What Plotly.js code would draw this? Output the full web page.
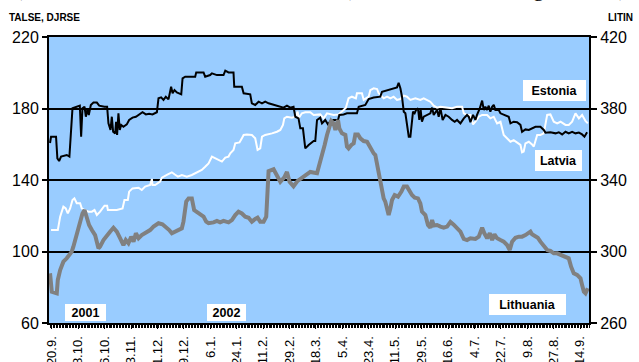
<!DOCTYPE html>
<html>
<head>
<meta charset="utf-8">
<script src="https://cdn.plot.ly/plotly-3.0.1.min.js"></script>
<style>
  html, body { margin: 0; padding: 0; background: #ffffff; }
  #chart { width: 639px; height: 362px; }
</style>
</head>
<body>
<div id="chart"></div>
<script>
// ---- tick labels (day index of each label, and its text) ----
const tickDays = [0, 18, 36, 54, 72, 90, 108, 126, 144, 162, 180, 198, 216, 234, 252, 270, 288, 306, 324, 342, 360];
const tickLabels = ["20.9.", "8.10.", "26.10.", "13.11.", "1.12.", "19.12.", "6.1.", "24.1.", "11.2.", "29.2.", "18.3.",
                    "5.4.", "23.4.", "11.5.", "29.5.", "16.6.", "4.7.", "22.7.", "9.8.", "27.8.", "14.9."];

// ---- Estonia (left axis) ----
const estoniaDays = [-1.2,-0.5,2.9,3.8,5.0,6.3,10.2,12.0,14.1,17.0,19.1,20.0,20.9,22.3,23.2,24.3,25.2,26.6,28.4,30.7,32.3,35.9,37.7,38.6,40.0,40.9,41.8,43.2,43.8,44.5,45.4,46.3,47.3,48.8,51.1,52.7,55.0,57.3,59.5,61.8,64.1,66.3,68.6,71.6,72.7,74.5,76.1,77.7,79.5,81.3,82.3,83.6,85.2,88.2,89.1,90.9,97.7,98.4,103.4,104.5,107.9,109.1,112.5,117.0,118.2,120.4,123.8,124.3,129.5,130.7,135.2,136.3,138.6,140.9,143.2,145.4,147.7,151.1,154.5,157.9,160.2,162.5,164.7,165.9,168.1,169.3,171.1,172.7,175.0,178.4,179.5,180.7,182.9,184.1,186.3,188.2,189.8,192.0,195.0,195.9,198.8,201.1,207.9,209.1,213.6,215.9,219.3,223.8,225.0,229.5,232.9,235.2,236.3,237.5,238.6,239.8,240.9,242.0,243.2,244.3,245.4,246.1,247.2,248.2,249.5,250.4,251.3,252.2,253.4,255.6,257.9,259.1,260.2,262.5,263.6,264.8,266.3,268.2,270.4,272.7,274.5,276.1,278.4,280.7,282.9,284.1,285.2,287.0,288.6,289.7,291.6,293.2,294.3,295.4,296.6,297.7,298.8,300.0,301.1,302.2,304.5,305.7,309.1,311.3,312.5,314.7,317.0,319.3,320.4,322.7,325.0,327.2,329.5,332.9,335.2,336.3,339.7,343.2,345.4,347.7,350.0,352.2,354.5,356.8,359.1,361.3,362.9,364.7];
const estoniaVals = [160.7,164.2,164.2,152.1,150.6,153.1,154.0,153.1,180.1,181.0,181.6,164.2,180.1,181.0,175.4,179.7,176.4,182.0,183.3,183.3,181.6,181.0,181.0,171.7,168.0,175.4,167.0,166.1,172.6,165.2,177.3,168.0,170.8,169.8,171.1,173.6,174.9,175.4,176.7,177.9,176.7,177.1,176.7,177.9,185.7,186.2,184.8,186.6,185.1,192.2,188.5,190.3,189.0,187.9,196.9,197.8,197.8,200.2,200.2,197.8,198.7,199.7,198.7,198.7,201.2,200.2,200.2,192.2,192.2,188.5,187.9,182.9,182.0,183.8,182.9,183.8,182.9,182.0,181.0,180.5,181.6,180.5,181.0,175.4,174.5,168.9,168.9,157.7,159.6,161.8,161.8,173.6,174.9,171.7,173.6,171.1,173.0,173.6,173.6,176.4,176.7,177.3,177.3,181.0,182.0,185.3,186.1,186.6,189.4,190.3,191.3,191.8,194.4,191.3,186.6,178.2,177.3,170.8,164.2,164.2,171.7,178.2,177.3,179.2,180.1,173.6,179.2,172.6,175.4,176.4,177.3,180.5,176.4,179.2,175.4,180.1,173.6,176.4,175.4,173.6,172.6,173.6,171.7,174.5,176.4,175.4,172.3,176.4,173.6,176.4,180.1,184.4,179.2,181.0,179.2,181.6,178.2,181.0,182.0,179.2,179.2,177.3,176.4,175.4,171.7,172.6,172.3,170.8,167.0,168.3,168.0,168.9,169.8,169.8,168.0,166.5,166.7,166.1,166.7,165.5,167.0,166.1,167.0,166.1,166.5,165.5,164.2,166.7];

// ---- Latvia (left axis) ----
const latviaDays = [-0.5,4.1,5.7,7.9,9.5,10.9,12.5,14.1,15.4,17.0,19.3,20.4,22.3,25.0,27.3,29.1,30.7,32.9,35.9,37.7,38.2,44.3,48.2,49.5,51.8,52.7,55.0,59.1,61.3,63.6,67.0,68.2,68.6,70.4,73.8,75.0,78.4,81.8,83.6,85.9,88.6,92.0,95.4,97.7,100.0,102.2,104.5,106.8,109.1,111.3,113.6,115.9,118.2,120.4,121.6,123.8,125.0,127.9,129.5,130.7,132.9,136.3,138.6,140.2,142.0,143.2,145.4,147.7,150.0,153.4,155.7,157.5,158.4,160.2,163.6,165.9,167.5,168.2,170.4,172.7,176.1,178.4,182.9,185.2,187.5,192.0,195.4,198.8,200.4,202.2,204.5,207.2,207.9,211.3,212.5,215.9,217.0,219.3,221.6,222.7,226.1,228.4,230.7,232.9,235.2,237.5,239.8,242.0,244.3,247.7,251.1,253.4,255.6,257.9,260.2,262.5,264.8,269.3,272.7,276.1,279.5,280.7,282.9,285.2,287.0,288.6,290.9,293.2,296.6,298.8,301.1,303.4,305.7,307.9,310.2,312.5,314.7,317.0,319.3,320.4,321.5,322.7,325.0,327.2,328.4,330.7,332.9,335.2,337.5,339.7,342.0,344.3,346.6,350.0,352.2,354.5,356.8,359.1,361.3,363.6,365.2];
const latviaVals = [112.0,112.0,119.5,125.1,124.1,121.3,124.1,128.8,129.7,127.0,127.0,124.1,123.2,122.3,122.3,123.2,120.4,122.3,125.6,125.6,123.2,123.2,124.1,128.8,128.8,133.5,135.3,135.7,134.4,136.3,137.2,140.6,137.2,137.2,139.1,141.3,142.8,144.3,143.2,141.9,142.8,141.9,142.8,143.7,144.7,145.6,147.4,149.3,153.1,152.1,151.2,150.3,152.5,153.1,154.9,156.8,160.5,161.0,163.3,165.2,165.5,165.2,163.3,156.8,157.7,164.2,165.2,165.5,166.1,167.0,168.0,170.8,174.5,175.4,174.9,175.4,178.2,174.5,177.3,177.9,177.9,176.4,176.7,174.5,177.3,176.4,176.7,179.2,180.5,185.7,186.6,185.7,188.5,188.5,184.8,186.6,190.3,191.3,190.9,188.5,185.7,186.6,185.7,186.6,184.8,185.3,187.2,186.6,184.8,185.7,184.8,185.7,184.8,183.8,181.6,180.5,181.0,180.5,180.1,181.0,181.0,177.3,176.4,176.4,171.1,172.6,175.4,176.4,176.4,174.5,175.4,171.7,172.6,165.2,163.3,161.4,162.3,161.0,159.6,155.5,155.9,160.5,161.4,159.9,158.7,165.2,165.2,166.1,176.4,176.7,172.6,171.7,172.6,170.8,170.8,172.6,177.3,174.5,176.4,173.0,171.7];

// ---- Lithuania (right axis) ----
const lithuaniaDays = [-1.2,0.0,3.4,4.1,5.7,7.9,10.2,11.8,13.6,14.7,17.0,19.3,20.9,22.3,23.8,25.4,27.3,29.5,31.8,32.9,35.2,37.5,39.7,42.0,44.3,46.6,48.8,50.4,52.2,54.1,55.7,57.3,59.1,61.3,63.6,67.0,69.3,72.7,75.4,77.7,80.0,81.8,84.1,86.3,88.6,89.7,90.4,91.6,93.2,95.4,97.0,98.8,101.1,103.4,105.2,106.8,110.2,112.5,114.7,117.0,120.4,122.7,125.0,127.2,129.5,131.8,134.1,136.3,138.6,140.2,142.0,144.3,146.1,147.0,147.7,151.1,153.8,155.7,158.4,160.2,162.0,164.7,167.5,171.5,176.1,180.7,182.2,184.1,185.9,187.5,188.6,190.4,192.0,193.2,195.0,195.9,197.7,200.0,201.1,202.2,204.1,205.7,206.8,208.6,210.2,212.5,214.8,217.0,219.3,220.4,221.6,222.7,223.8,225.0,226.1,227.2,228.4,229.5,230.7,231.8,233.6,235.9,238.2,239.8,242.0,243.6,245.4,247.3,249.5,251.1,252.2,254.5,256.3,257.9,259.1,260.2,262.5,264.8,267.0,269.3,271.6,273.8,276.1,278.4,280.7,282.9,285.2,288.6,290.9,293.2,294.7,296.6,298.4,300.0,301.6,303.4,305.7,307.9,310.2,312.0,313.6,315.9,318.2,320.4,322.7,325.0,326.1,327.2,329.5,331.1,332.9,335.2,337.5,339.7,342.0,344.3,346.6,350.0,352.2,353.8,355.6,357.9,360.2,361.3,362.5,363.6,365.2];
const lithuaniaVals = [287.8,277.5,276.6,284.1,289.6,294.3,296.2,298.0,299.9,302.7,309.2,316.7,321.3,323.2,319.5,314.8,312.0,309.2,301.8,302.7,306.4,309.2,311.1,313.3,311.1,307.4,303.6,306.4,304.6,308.3,305.5,310.2,307.4,309.2,310.2,312.0,313.9,315.8,315.2,313.9,312.0,310.2,311.1,312.0,313.0,316.7,322.0,327.9,329.7,329.7,323.2,322.3,321.3,319.5,316.7,315.8,316.3,317.1,316.3,317.1,316.3,317.6,320.4,322.3,321.3,319.5,318.9,316.7,318.2,318.9,316.7,316.7,319.5,335.0,345.0,346.0,341.5,339.0,341.5,344.5,339.0,336.5,339.5,342.0,344.5,343.8,348.4,352.1,359.6,365.2,368.9,373.0,371.7,368.0,373.6,368.9,366.1,365.2,358.7,357.7,359.6,360.5,365.5,365.5,363.3,361.8,361.4,357.7,354.9,354.0,349.3,342.8,338.1,333.5,329.7,327.9,324.2,320.4,324.2,328.8,331.6,330.7,333.5,336.3,336.3,333.5,331.6,330.1,329.7,326.9,322.3,320.4,314.8,313.3,317.6,314.5,314.8,313.9,313.3,313.9,316.5,315.0,313.3,311.1,307.0,306.4,307.4,307.0,308.3,313.3,310.2,307.4,310.2,306.4,309.6,307.4,306.4,305.5,303.6,300.8,305.5,307.7,308.3,308.3,309.2,310.2,311.1,309.6,308.3,307.7,305.5,302.7,300.8,300.3,299.0,299.0,298.0,297.1,296.2,291.5,287.8,286.9,285.0,281.3,277.5,276.6,279.4];

// ---- text ----
const leftAxisTitle = "TALSE, DJRSE";
const rightAxisTitle = "LITIN";
const seriesNames = ["Estonia", "Latvia", "Lithuania"];
const yearLabels = ["2001", "2002"];
const leftTicks = [60, 100, 140, 180, 220];
const rightTicks = [260, 300, 340, 380, 420];
// glyphs of the chart title line that is cut off by the top edge of the image
const titleFragments = ["(", ")", "g", ")"];

// plot-area geometry helpers (pixels -> paper)
const L = 49, T = 37, W = 540, H = 286;
const px = x => (x - L) / W;
const py = y => (T + H - y) / H;

const FONT = "Arial, 'Liberation Sans', sans-serif";
const SERIF = "'Times New Roman', 'Liberation Serif', serif";

const traces = [
  { x: latviaDays, y: latviaVals, name: seriesNames[1], type: "scatter", mode: "lines",
    line: { color: "#ffffff", width: 2 }, yaxis: "y", hoverinfo: "skip" },
  { x: estoniaDays, y: estoniaVals, name: seriesNames[0], type: "scatter", mode: "lines",
    line: { color: "#000000", width: 2 }, yaxis: "y", hoverinfo: "skip" },
  { x: lithuaniaDays, y: lithuaniaVals, name: seriesNames[2], type: "scatter", mode: "lines",
    line: { color: "#808080", width: 4 }, yaxis: "y2", hoverinfo: "skip" }
];

function boxLabel(text, cx, cy, w, h) {
  return { text: "<b>" + text + "</b>", xref: "paper", yref: "paper", x: px(cx), y: py(cy),
    xanchor: "center", yanchor: "middle", showarrow: false, bgcolor: "#ffffff",
    width: w, height: h, borderpad: 0, borderwidth: 0,
    font: { family: FONT, size: 12.5, color: "#000" } };
}

function fragment(text, cx) {
  return { text: text, xref: "paper", yref: "paper", x: px(cx), y: py(-11),
    xanchor: "center", yanchor: "middle", showarrow: false,
    font: { family: SERIF, size: 22, color: "#000" } };
}

const annotations = [
  boxLabel(seriesNames[0], 554.4, 90.4, 63, 21),
  boxLabel(seriesNames[1], 558.3, 160.3, 47, 21),
  boxLabel(seriesNames[2], 527.7, 304.5, 77, 21),
  boxLabel(yearLabels[0], 85.5, 312.3, 41, 17),
  boxLabel(yearLabels[1], 226.7, 312.3, 39, 17),
  { text: "<b>" + leftAxisTitle + "</b>", xref: "paper", yref: "paper", x: px(7), y: py(17.5),
    xanchor: "left", yanchor: "middle", showarrow: false,
    font: { family: FONT, size: 10, color: "#000" } },
  { text: "<b>" + rightAxisTitle + "</b>", xref: "paper", yref: "paper", x: px(606), y: py(17.5),
    xanchor: "left", yanchor: "middle", showarrow: false,
    font: { family: FONT, size: 10, color: "#000" } },
  fragment(titleFragments[0], 18),
  fragment(titleFragments[1], 352),
  fragment(titleFragments[2], 538),
  fragment(titleFragments[3], 622)
];

const layout = {
  width: 639, height: 362,
  margin: { l: L, r: 639 - L - W, t: T, b: 362 - T - H, pad: 0 },
  paper_bgcolor: "#ffffff",
  plot_bgcolor: "#99ccff",
  showlegend: false,
  xaxis: {
    type: "linear", range: [-1.9, 366],
    tickmode: "array", tickvals: tickDays, ticktext: tickLabels,
    tickangle: -90, tickfont: { family: FONT, size: 13, color: "#000" },
    ticklabelstandoff: 2,
    ticks: "outside", ticklen: 4, tickwidth: 1, tickcolor: "#000",
    minor: { tickmode: "linear", tick0: 0, dtick: 1, ticks: "outside", ticklen: 3, tickwidth: 1, tickcolor: "#000", showgrid: false },
    showline: true, linecolor: "#000", linewidth: 2, mirror: true,
    showgrid: false, zeroline: false, fixedrange: true
  },
  yaxis: {
    range: [60, 220], tickmode: "array", tickvals: leftTicks,
    tickfont: { family: FONT, size: 16, color: "#000" },
    ticks: "outside", ticklen: 5, tickwidth: 2, tickcolor: "#000",
    showline: true, linecolor: "#000", linewidth: 2,
    showgrid: true, gridcolor: "#000", gridwidth: 2, zeroline: false, fixedrange: true
  },
  yaxis2: {
    range: [260, 420], overlaying: "y", side: "right", tickmode: "array", tickvals: rightTicks,
    tickfont: { family: FONT, size: 16, color: "#000" },
    ticks: "outside", ticklen: 6, tickwidth: 2, tickcolor: "#000",
    showline: true, linecolor: "#000", linewidth: 2,
    showgrid: false, zeroline: false, fixedrange: true
  },
  annotations: annotations
};

Plotly.newPlot("chart", traces, layout, { staticPlot: true, displayModeBar: false });
</script>
</body>
</html>
